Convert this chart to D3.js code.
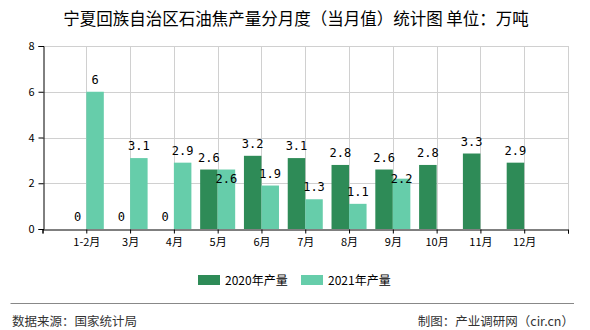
<!DOCTYPE html>
<html><head><meta charset="utf-8">
<script src="https://cdn.jsdelivr.net/npm/d3@7/dist/d3.min.js"></script>
<style>body{margin:0;background:#fff;}svg{display:block;}</style>
</head><body>
<svg id="c" width="590" height="330"></svg>
<script>
const categories = ["1-2月","3月","4月","5月","6月","7月","8月","9月","10月","11月","12月"];
const values2020 = [0,0,0,2.6,3.2,3.1,2.8,2.6,2.8,3.3,2.9];
const values2021 = [6,3.1,2.9,2.6,1.9,1.3,1.1,2.2,null,null,null];
const yTicks = [0,2,4,6,8];
const seriesNames = ["2020年产量","2021年产量"];
const colors = ["#2e8b57","#66cdaa"];

(function(){
const svg = d3.select("#c");
const pL = 42.5, pR = 568, pT = 46, pB = 229;
const x = d3.scaleLinear().domain([0, categories.length + 1]).range([pL, pR]);
const y = d3.scaleLinear().domain([0, 8]).range([pB, pT]);
const bw = (x(1) - x(0)) * 0.4;
const FONT = "'Noto Sans CJK SC', 'Noto Sans', sans-serif";
const MONO = "'DejaVu Sans Mono', monospace";

// title
svg.append("text").attr("x", 296).attr("y", 25).attr("text-anchor","middle")
  .attr("font-family", FONT).attr("font-size", 16.5).attr("fill","#000")
  .attr("xml:space","preserve").style("white-space","pre")
  .text("宁夏回族自治区石油焦产量分月度（当月值）统计图 单位：万吨");

// grid
const g = svg.append("g");
g.selectAll(".hg").data(yTicks.filter(d=>d>0)).enter().append("line")
  .attr("x1", pL).attr("x2", pR).attr("y1", d=>Math.round(y(d))+0.5).attr("y2", d=>Math.round(y(d))+0.5)
  .attr("stroke","#d0d0d0");
const vPos = categories.map((c,i)=>i+1).concat([categories.length+1]);
g.selectAll(".vg").data(vPos).enter().append("line")
  .attr("x1", d=>Math.round(x(d))+0.5).attr("x2", d=>Math.round(x(d))+0.5).attr("y1", pT).attr("y2", pB)
  .attr("stroke","#d0d0d0");

// bars
const bars = svg.append("g");
categories.forEach((c,i)=>{
  const cx = x(i+1);
  if (values2020[i] != null) bars.append("rect").attr("x", cx - bw).attr("width", bw)
    .attr("y", y(values2020[i])).attr("height", pB - y(values2020[i])).attr("fill", colors[0]);
  if (values2021[i] != null) bars.append("rect").attr("x", cx).attr("width", bw)
    .attr("y", y(values2021[i])).attr("height", pB - y(values2021[i])).attr("fill", colors[1]);
});

// axes
const yAxis = d3.axisLeft(y).tickValues(yTicks).tickSize(5).tickFormat(d3.format("d"));
const ya = svg.append("g").attr("transform", `translate(${Math.round(pL)+0.5},0)`).call(yAxis);
ya.select(".domain").attr("stroke","#000");
ya.selectAll("text").attr("font-family", FONT).attr("font-size", 11).attr("fill","#000").attr("dx", -1);

const xAxis = d3.axisBottom(x).tickValues(d3.range(0, categories.length + 2)).tickSize(4)
  .tickFormat(d => (d>=1 && d<=categories.length) ? categories[d-1] : "");
const xa = svg.append("g").attr("transform", `translate(0,${pB+0.5})`).call(xAxis);
xa.select(".domain").attr("stroke","#000");
xa.selectAll("line").attr("stroke","#000");
xa.selectAll("text").attr("font-family", FONT).attr("font-size", 11).attr("fill","#000").attr("dy", "0.9em");

// value labels
const lab = svg.append("g").attr("font-family", MONO).attr("font-size", 12).attr("fill","#000").attr("text-anchor","middle");
categories.forEach((c,i)=>{
  const cx = x(i+1);
  let y20 = null;
  if (values2020[i] != null) {
    y20 = y(values2020[i]) - 8;
    lab.append("text").attr("x", cx - bw/2).attr("y", y20).text(values2020[i]);
  }
  if (values2021[i] != null) {
    let y21 = y(values2021[i]) - 8;
    if (y20 !== null && Math.abs(y21 - y20) < 10) y21 = y20 + 21;
    lab.append("text").attr("x", cx + bw/2).attr("y", y21).text(values2021[i]);
  }
});

// legend
const lg = svg.append("g").attr("font-family", FONT).attr("font-size", 12);
const lx = [198, 301];
seriesNames.forEach((n,i)=>{
  lg.append("rect").attr("x", lx[i]).attr("y", 275).attr("width", 22).attr("height", 10).attr("fill", colors[i]);
  lg.append("text").attr("x", lx[i] + 27).attr("y", 284.5).attr("fill","#000").text(n);
});

// footer
svg.append("line").attr("x1", 10.5).attr("x2", 574).attr("y1", 303.5).attr("y2", 303.5).attr("stroke","#888");
svg.append("text").attr("x", 12).attr("y", 325.5).attr("font-family", FONT).attr("font-size", 12.5).attr("fill","#333")
  .text("数据来源：国家统计局");
svg.append("text").attr("x", 574).attr("y", 325.5).attr("text-anchor","end").attr("font-family", FONT).attr("font-size", 12.5).attr("fill","#333")
  .text("制图：产业调研网（cir.cn）");
})();
</script>
</body></html>
